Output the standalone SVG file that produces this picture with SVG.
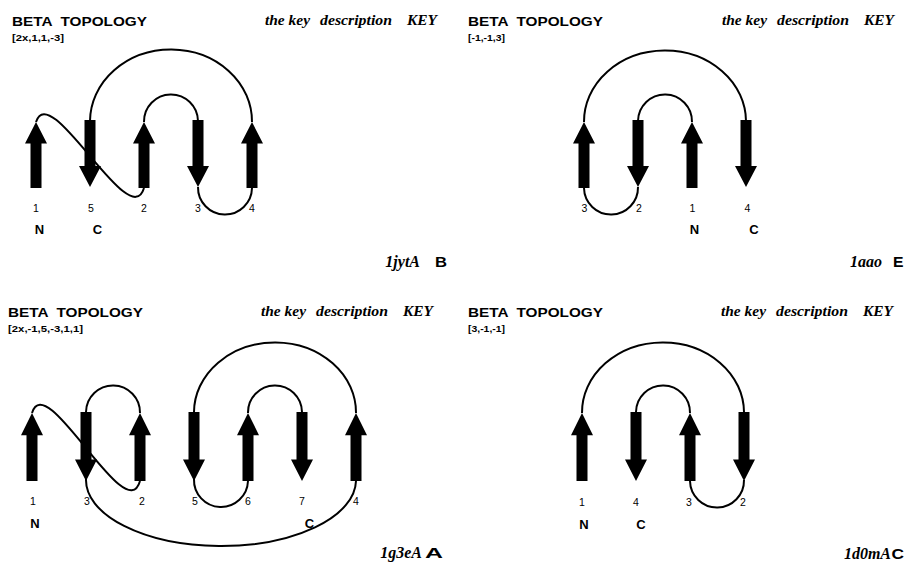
<svg xmlns="http://www.w3.org/2000/svg" xmlns:xlink="http://www.w3.org/1999/xlink" width="905" height="563" viewBox="0 0 905 563">
  <style>
    .title { font-family: "Liberation Sans", Arial, sans-serif; font-weight: bold; font-size: 13px; fill: #000; }
    .code { font-family: "Liberation Sans", Arial, sans-serif; font-weight: bold; font-size: 9.5px; fill: #000; }
    .key { font-family: "Liberation Serif", "Times New Roman", serif; font-weight: bold; font-style: italic; font-size: 14px; fill: #000; }
    .pdb { font-family: "Liberation Serif", "Times New Roman", serif; font-weight: bold; font-style: italic; font-size: 16px; fill: #000; text-anchor: end; }
    .chain { font-family: "Liberation Sans", Arial, sans-serif; font-weight: bold; font-size: 15px; fill: #000; }
    .num { font-family: "Liberation Sans", Arial, sans-serif; font-size: 10.5px; fill: #000; text-anchor: middle; }
    .term { font-family: "Liberation Sans", Arial, sans-serif; font-weight: bold; font-size: 13px; fill: #000; text-anchor: middle; }
    .loop { fill: none; stroke: #000; stroke-width: 2; }
    .strand { fill: #000; }
  </style>
  <defs>
    <!-- strand pointing up: tip at origin -->
    <path id="up" d="M0,0 L11,21.5 L5.5,21.5 L5.5,66 L-5.5,66 L-5.5,21.5 L-11,21.5 Z"/>
    <!-- strand pointing down: body top at origin -->
    <path id="down" d="M-5.5,0 L5.5,0 L5.5,46 L11,46 L0,67 L-11,46 L-5.5,46 Z"/>
  </defs>

  <!-- ===== 1jytA B ===== -->
  <g id="panel-1jytA">
    <text class="title" x="12" y="26" textLength="135" lengthAdjust="spacingAndGlyphs" xml:space="preserve">BETA  TOPOLOGY</text>
    <text class="code" x="12" y="41" textLength="52" lengthAdjust="spacingAndGlyphs">[2x,1,1,-3]</text>
    <text class="key" x="265" y="25" textLength="45" lengthAdjust="spacingAndGlyphs">the key</text>
    <text class="key" x="320" y="25" textLength="72" lengthAdjust="spacingAndGlyphs">description</text>
    <text class="key" x="407" y="25" textLength="30" lengthAdjust="spacingAndGlyphs">KEY</text>
    <text class="pdb" x="420" y="267">1jytA</text>
    <text class="chain" x="435" y="267" textLength="12" lengthAdjust="spacingAndGlyphs">B</text>

    <g id="p1-connectors">
      <path class="loop" d="M36,122 C50,78 130,235 144,188"/>
      <path class="loop" d="M144,122 A27,27 0 0 1 198,121"/>
      <path class="loop" d="M198,187 A27,27 0 0 0 252,188"/>
      <path class="loop" d="M252,122 A81,72 0 0 0 90,121"/>
    </g>
    <g id="p1-s1"><use xlink:href="#up" class="strand" x="36" y="122"/><text class="num" x="36" y="212">1</text></g>
    <g id="p1-s5"><use xlink:href="#down" class="strand" x="90" y="120"/><text class="num" x="91" y="212">5</text></g>
    <g id="p1-s2"><use xlink:href="#up" class="strand" x="144" y="122"/><text class="num" x="144" y="212">2</text></g>
    <g id="p1-s3"><use xlink:href="#down" class="strand" x="198" y="120"/><text class="num" x="198" y="212">3</text></g>
    <g id="p1-s4"><use xlink:href="#up" class="strand" x="252" y="122"/><text class="num" x="252" y="212">4</text></g>
    <text class="term" x="39.5" y="234">N</text>
    <text class="term" x="97.5" y="234">C</text>
  </g>

  <!-- ===== 1aao E ===== -->
  <g id="panel-1aao">
    <text class="title" x="468" y="26" textLength="135" lengthAdjust="spacingAndGlyphs" xml:space="preserve">BETA  TOPOLOGY</text>
    <text class="code" x="468" y="41" textLength="37" lengthAdjust="spacingAndGlyphs">[-1,-1,3]</text>
    <text class="key" x="722" y="25" textLength="45" lengthAdjust="spacingAndGlyphs">the key</text>
    <text class="key" x="777" y="25" textLength="72" lengthAdjust="spacingAndGlyphs">description</text>
    <text class="key" x="864" y="25" textLength="30" lengthAdjust="spacingAndGlyphs">KEY</text>
    <text class="pdb" x="882" y="267">1aao</text>
    <text class="chain" x="893" y="267" textLength="10.5" lengthAdjust="spacingAndGlyphs">E</text>

    <g id="p2-connectors">
      <path class="loop" d="M692,122 A27,27 0 0 0 638,121"/>
      <path class="loop" d="M638,187 A27,27 0 0 1 584,188"/>
      <path class="loop" d="M584,122 A81,71 0 0 1 746,121"/>
    </g>
    <g id="p2-s3"><use xlink:href="#up" class="strand" x="584" y="122"/><text class="num" x="584.5" y="212">3</text></g>
    <g id="p2-s2"><use xlink:href="#down" class="strand" x="638" y="120"/><text class="num" x="639" y="212">2</text></g>
    <g id="p2-s1"><use xlink:href="#up" class="strand" x="692" y="122"/><text class="num" x="692.5" y="212">1</text></g>
    <g id="p2-s4"><use xlink:href="#down" class="strand" x="746" y="120"/><text class="num" x="747.5" y="212">4</text></g>
    <text class="term" x="694.5" y="234">N</text>
    <text class="term" x="754" y="234">C</text>
  </g>

  <!-- ===== 1g3eA A ===== -->
  <g id="panel-1g3eA">
    <text class="title" x="8" y="317" textLength="135" lengthAdjust="spacingAndGlyphs" xml:space="preserve">BETA  TOPOLOGY</text>
    <text class="code" x="8" y="332" textLength="75" lengthAdjust="spacingAndGlyphs">[2x,-1,5,-3,1,1]</text>
    <text class="key" x="261" y="316" textLength="45" lengthAdjust="spacingAndGlyphs">the key</text>
    <text class="key" x="316" y="316" textLength="72" lengthAdjust="spacingAndGlyphs">description</text>
    <text class="key" x="403" y="316" textLength="30" lengthAdjust="spacingAndGlyphs">KEY</text>
    <text class="pdb" x="422" y="558">1g3eA</text>
    <text class="chain" x="425" y="558" textLength="18" lengthAdjust="spacingAndGlyphs">A</text>

    <g id="p3-connectors">
      <path class="loop" d="M32,413 C46,367 126,530 140,481"/>
      <path class="loop" d="M140,413 A27,27 0 0 0 86,412"/>
      <path class="loop" d="M86,479 A135,66 0 0 0 356,481"/>
      <path class="loop" d="M356,413 A81,70 0 0 0 194,412"/>
      <path class="loop" d="M194,479 A27,27 0 0 0 248,481"/>
      <path class="loop" d="M248,413 A27,27 0 0 1 302,412"/>
    </g>
    <g id="p3-s1"><use xlink:href="#up" class="strand" transform="translate(32,413) scale(1,1.03)"/><text class="num" x="33" y="505">1</text></g>
    <g id="p3-s3"><use xlink:href="#down" class="strand" transform="translate(86,412) scale(1,1.03)"/><text class="num" x="87" y="505">3</text></g>
    <g id="p3-s2"><use xlink:href="#up" class="strand" transform="translate(140,413) scale(1,1.03)"/><text class="num" x="142" y="505">2</text></g>
    <g id="p3-s5"><use xlink:href="#down" class="strand" transform="translate(194,412) scale(1,1.03)"/><text class="num" x="195" y="505">5</text></g>
    <g id="p3-s6"><use xlink:href="#up" class="strand" transform="translate(248,413) scale(1,1.03)"/><text class="num" x="248" y="505">6</text></g>
    <g id="p3-s7"><use xlink:href="#down" class="strand" transform="translate(302,412) scale(1,1.03)"/><text class="num" x="302" y="505">7</text></g>
    <g id="p3-s4"><use xlink:href="#up" class="strand" transform="translate(356,413) scale(1,1.03)"/><text class="num" x="356" y="505">4</text></g>
    <text class="term" x="35" y="528">N</text>
    <text class="term" x="309.5" y="528">C</text>
  </g>

  <!-- ===== 1d0mA C ===== -->
  <g id="panel-1d0mA">
    <text class="title" x="468" y="317" textLength="135" lengthAdjust="spacingAndGlyphs" xml:space="preserve">BETA  TOPOLOGY</text>
    <text class="code" x="468" y="332" textLength="37" lengthAdjust="spacingAndGlyphs">[3,-1,-1]</text>
    <text class="key" x="721" y="316" textLength="45" lengthAdjust="spacingAndGlyphs">the key</text>
    <text class="key" x="776" y="316" textLength="72" lengthAdjust="spacingAndGlyphs">description</text>
    <text class="key" x="863" y="316" textLength="30" lengthAdjust="spacingAndGlyphs">KEY</text>
    <text class="pdb" x="891" y="559">1d0mA</text>
    <text class="chain" x="891.5" y="559" textLength="12.5" lengthAdjust="spacingAndGlyphs">C</text>

    <g id="p4-connectors">
      <path class="loop" d="M582,413 A81,70 0 0 1 744,412"/>
      <path class="loop" d="M744,480 A27,27 0 0 1 690,481"/>
      <path class="loop" d="M690,413 A27,27 0 0 0 636,412"/>
    </g>
    <g id="p4-s1"><use xlink:href="#up" class="strand" transform="translate(582,413) scale(1,1.03)"/><text class="num" x="582" y="506">1</text></g>
    <g id="p4-s4"><use xlink:href="#down" class="strand" transform="translate(636,412) scale(1,1.03)"/><text class="num" x="636" y="506">4</text></g>
    <g id="p4-s3"><use xlink:href="#up" class="strand" transform="translate(690,413) scale(1,1.03)"/><text class="num" x="689" y="506">3</text></g>
    <g id="p4-s2"><use xlink:href="#down" class="strand" transform="translate(744,412) scale(1,1.03)"/><text class="num" x="743" y="506">2</text></g>
    <text class="term" x="584" y="529">N</text>
    <text class="term" x="641" y="529">C</text>
  </g>
</svg>
